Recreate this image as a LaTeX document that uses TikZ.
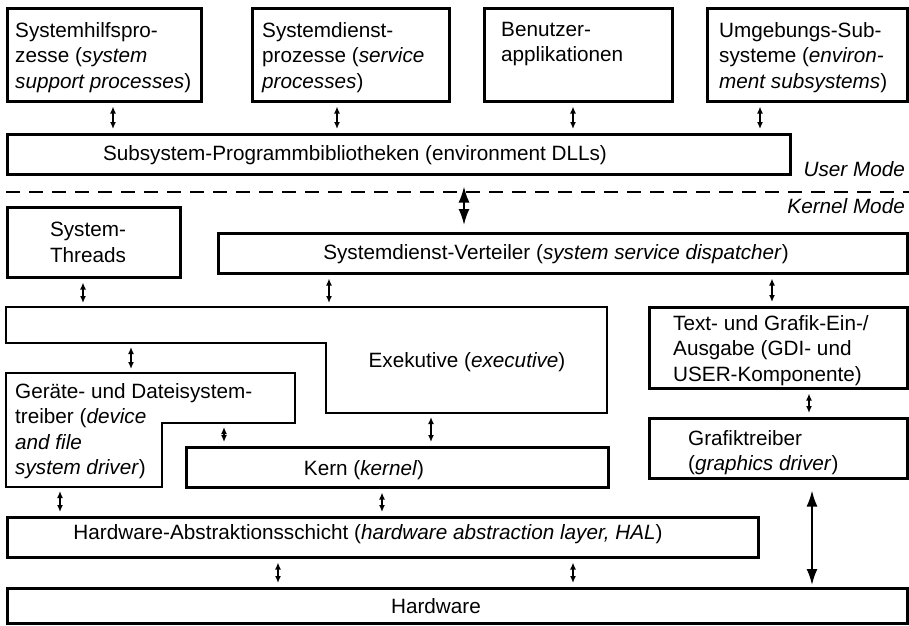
\documentclass[tikz,border=0pt]{standalone}
\usepackage{fontspec}
\setmainfont{Liberation Sans}
\usetikzlibrary{positioning, calc, arrows.meta}

\tikzset{
  box/.style={draw, line width=2.5pt, rectangle, inner sep=0pt, anchor=north west},
  shape line/.style={line width=2.5pt, line join=miter},
  txt/.style={inner sep=0pt, align=left, font=\fontsize{20.7}{25.5}\selectfont},
  lnk/.style={line width=1.8pt, {Latex[length=7pt,width=6pt]}-{Latex[length=7pt,width=6pt]}, shorten <=4pt, shorten >=4pt},
  bigarrow/.style={line width=2pt, {Latex[length=16pt,width=11pt]}-{Latex[length=16pt,width=11pt]}},
  modeline/.style={line width=2pt, dash pattern=on 14pt off 9pt},
}

\begin{document}
\begin{tikzpicture}[x=1pt, y=-1pt]
  \useasboundingbox (0,0) rectangle (909,625);

  % user mode
  \node[box, minimum width=194pt, minimum height=93pt] (sysproc) at (6,7) {};
  \node[box, minimum width=197pt, minimum height=93pt] (servproc) at (251,7) {};
  \node[box, minimum width=188pt, minimum height=93pt] (userapp) at (483,7) {};
  \node[box, minimum width=200pt, minimum height=93pt] (envsub) at (706,7) {};
  \node[box, minimum width=783pt, minimum height=40pt] (dll) at (6,133) {};

  \node[txt, anchor=north west] (sysproc-t) at (15,22) {Systemhilfspro-\\zesse (\textit{system}\\\textit{support processes})};
  \node[txt, anchor=north west] (servproc-t) at (262,22) {Systemdienst-\\prozesse (\textit{service}\\\textit{processes})};
  \node[txt, anchor=north west] (userapp-t) at (501,22) {Benutzer-\\applikationen};
  \node[txt, anchor=north west] (envsub-t) at (719,22) {Umgebungs-Sub-\\systeme (\textit{environ-}\\\textit{ment subsystems})};
  \node[txt, anchor=base] (dll-t) at (355,160) {Subsystem-Programmbibliotheken (environment DLLs)};

  \draw[lnk] (sysproc.south -| 113,0) -- (dll.north -| 113,0);
  \draw[lnk] (servproc.south -| 337,0) -- (dll.north -| 337,0);
  \draw[lnk] (userapp.south -| 573,0) -- (dll.north -| 573,0);
  \draw[lnk] (envsub.south -| 760,0) -- (dll.north -| 760,0);

  % mode border
  \draw[modeline] (6,192) coordinate (sep-l) -- (909,192) coordinate (sep-r);
  \node[txt, anchor=base east] (usermode) at (905,176) {\textit{User Mode}};
  \node[txt, anchor=base east] (kernelmode) at (905,213) {\textit{Kernel Mode}};

  % kernel mode
  \node[box, minimum width=173pt, minimum height=70pt] (threads) at (6,206) {};
  \node[box, minimum width=689pt, minimum height=40pt] (disp) at (217,232) {};
  \node[box, minimum width=258pt, minimum height=81pt] (gdi) at (648,306) {};
  \node[box, minimum width=422pt, minimum height=40pt] (kern) at (185,446) {};
  \node[box, minimum width=258pt, minimum height=60pt] (gfxdrv) at (648,417) {};
  \node[box, minimum width=751pt, minimum height=40pt] (hal) at (6,516) {};
  \node[box, minimum width=900pt, minimum height=35pt] (hw) at (6,587) {};

  \draw[shape line] (6,307) coordinate (ex-top) -- (607,307) -- (607,413)
    -- (326,413) coordinate (ex-bot) -- (326,343) -- (6,343) coordinate (ex-mid) -- cycle;
  \draw[shape line] (6,373) coordinate (drv-top) -- (295,373) -- (295,423)
    -- (162,423) coordinate (drv-step) -- (162,487) -- (6,487) coordinate (drv-bot) -- cycle;

  \node[txt, anchor=north, align=center] (threads-t) at (88,222) {System-\\Threads};
  \node[txt, anchor=base] (disp-t) at (556,259) {Systemdienst-Verteiler (\textit{system service dispatcher})};
  \node[txt, anchor=base] (ex-t) at (467,367) {Exekutive (\textit{executive})};
  \node[txt, anchor=north west] (gdi-t) at (673,315) {Text- und Grafik-Ein-/\\Ausgabe (GDI- und\\USER-Komponente)};
  \node[txt, anchor=north west] (drv-t) at (15,383) {Geräte- und Dateisystem-\\treiber (\textit{device}\\\textit{and file}\\\textit{system driver})};
  \node[txt, anchor=base] (kern-t) at (364,475) {Kern (\textit{kernel})};
  \node[txt, anchor=north west] (gfxdrv-t) at (688,430) {Grafiktreiber\\(\textit{graphics driver})};
  \node[txt, anchor=base] (hal-t) at (368,539) {Hardware-Abstraktionsschicht (\textit{hardware abstraction layer, HAL})};
  \node[txt, anchor=base] (hw-t) at (436,613) {Hardware};

  \draw[bigarrow, shorten <=11pt, shorten >=7pt] (dll.south -| 464,0) -- (disp.north -| 464,0);
  \draw[lnk] (threads.south -| 83,0) -- (ex-top -| 83,0);
  \draw[lnk] (disp.south -| 329,0) -- (ex-top -| 329,0);
  \draw[lnk] (disp.south -| 772,0) -- (gdi.north -| 772,0);
  \draw[lnk] (gdi.south -| 809,0) -- (gfxdrv.north -| 809,0);
  \draw[lnk] (ex-mid -| 131,0) -- (drv-top -| 131,0);
  \draw[lnk] (drv-step -| 224,0) -- (kern.north -| 224,0);
  \draw[lnk] (ex-bot -| 431,0) -- (kern.north -| 431,0);
  \draw[lnk] (drv-bot -| 60,0) -- (hal.north -| 60,0);
  \draw[lnk] (kern.south -| 382,0) -- (hal.north -| 382,0);
  \draw[lnk] (hal.south -| 278,0) -- (hw.north -| 278,0);
  \draw[lnk] (hal.south -| 573,0) -- (hw.north -| 573,0);
  \draw[bigarrow, shorten <=11pt, shorten >=2pt] (gfxdrv.south -| 812,0) -- (hw.north -| 812,0);
\end{tikzpicture}
\end{document}
